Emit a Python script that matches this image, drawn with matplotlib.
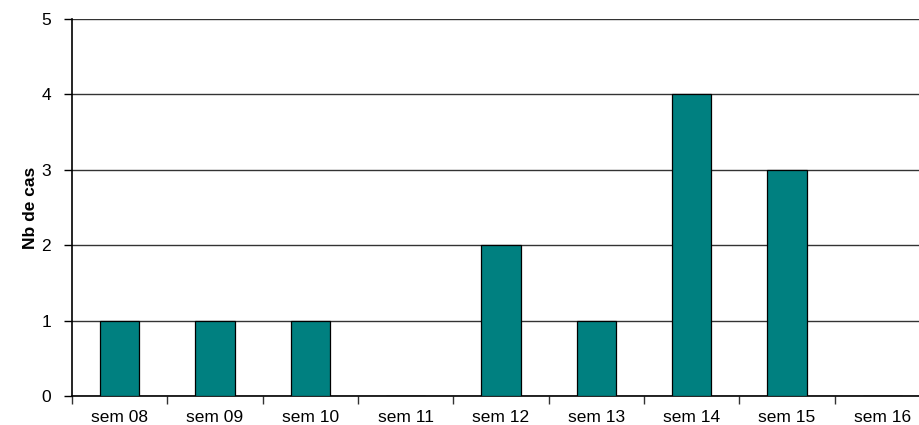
import matplotlib.pyplot as plt
import numpy as np

# weekly case counts
weeks = ['sem 08', 'sem 09', 'sem 10', 'sem 11', 'sem 12',
         'sem 13', 'sem 14', 'sem 15', 'sem 16']
cases = [1, 1, 1, 0, 2, 1, 4, 3, 0]

plt.rcParams['font.family'] = ['Liberation Sans', 'DejaVu Sans']

fig = plt.figure(figsize=(9.2, 4.25), dpi=100)
# axes runs a little past the right edge, like the original
ax = fig.add_axes([72 / 920, 29 / 425, 858 / 920, 377 / 425])

x = np.arange(len(weeks))
ax.bar(x, cases, width=0.41, color='#008080', edgecolor='black',
       linewidth=0.9, zorder=3)

ax.set_xlim(-0.5, len(weeks) - 0.5)
ax.set_ylim(0, 5)
ax.set_yticks(range(0, 6))
ax.yaxis.grid(True, color='#333333', linewidth=1.0, zorder=0)

ax.set_xticks(x)
ax.set_xticklabels(weeks, fontsize=12.5)
ax.set_xticks(np.arange(-0.5, len(weeks)), minor=True)
ax.tick_params(axis='x', which='major', length=0, pad=10)
ax.tick_params(axis='x', which='minor', length=6, width=1, color='#333333')
ax.tick_params(axis='y', length=6, width=1, labelsize=12.5, pad=9)

for side in ['top', 'right']:
    ax.spines[side].set_visible(False)
ax.spines['left'].set_linewidth(1.2)
ax.spines['bottom'].set_linewidth(1.2)

ax.set_ylabel('Nb de cas', fontsize=12.5, fontweight='bold')
ax.yaxis.set_label_coords(-0.040, 0.5)

fig.savefig('out.png', dpi=100)
